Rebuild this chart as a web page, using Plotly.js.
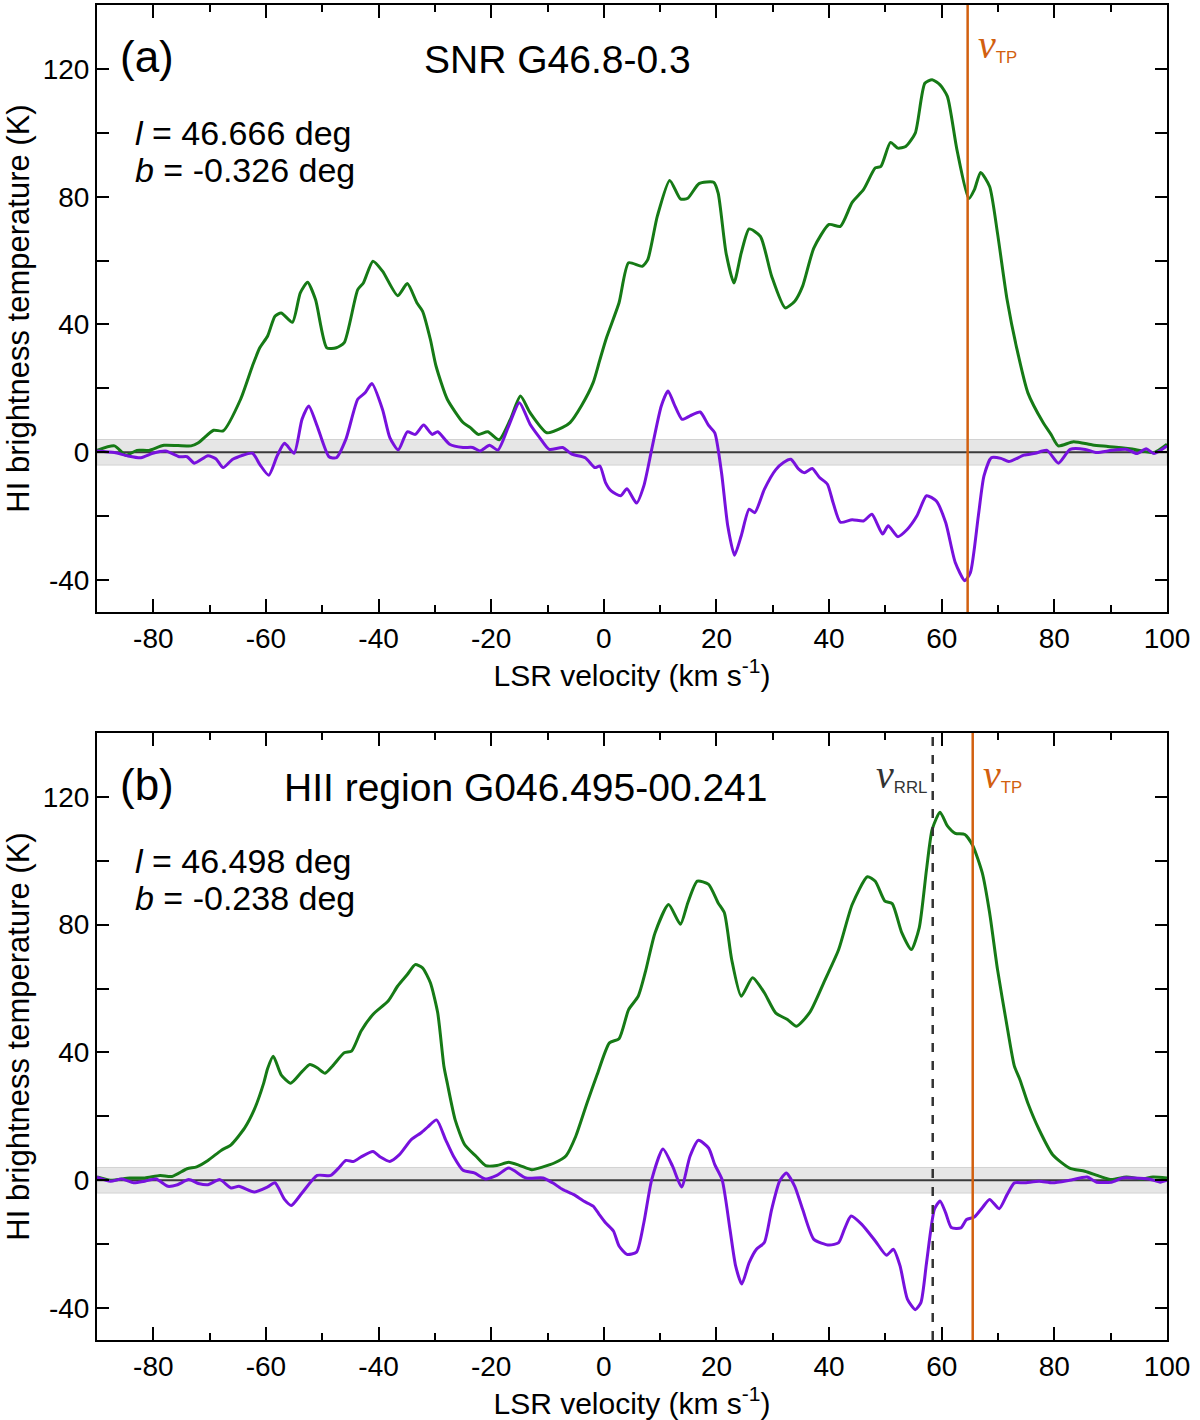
<!DOCTYPE html>
<html>
<head>
<meta charset="utf-8">
<script src="https://cdn.plot.ly/plotly-3.0.1.min.js"></script>
<style>
  body { margin: 0; background: #fff; }
  #chart { width: 1200px; height: 1420px; }
</style>
</head>
<body>
<div id="chart"></div>
<script>
// HI spectra towards SNR G46.8-0.3 (a) and HII region G046.495-00.241 (b)

// panel (a): emission (green)
const velA_on = [-90, -86.9, -84.9, -82.9, -80.8, -78.1, -73.3, -72, -69.3, -67.6, -64.5, -62.4, -61.1, -59.7, -58.4, -57.3, -55.3, -53.9, -52.6, -51.2, -49.2, -47.5, -46.1, -43.7, -42.7, -41, -39.3, -36.6, -34.9, -33.2, -32.2, -30.8, -29.8, -27.8, -25, -23.7, -22.3, -20.6, -18.6, -16.6, -14.8, -13.1, -10.1, -7.4, -6, -4, -1.9, -0.7, 0.5, 2.7, 4.4, 6.8, 7.8, 9.5, 11.7, 13.6, 14.9, 16.9, 19.5, 20.3, 21.7, 23.1, 24.4, 25.8, 27.8, 29.8, 32.2, 33.9, 35.3, 37.3, 40, 42, 44.1, 46.1, 48.2, 49.2, 50.9, 52.2, 53.6, 55.3, 57, 58.3, 59.7, 61, 62.7, 64.8, 65.8, 66.9, 68.5, 69.9, 71.6, 73.3, 75.3, 78, 79.4, 80.7, 83.4, 86.8, 89.5, 94.3, 97.7, 100];
const tbA_on = [0.6, 2, -0.9, 0.6, 0.6, 2.2, 2, 3, 6.9, 6.7, 16.6, 27, 32.7, 36.4, 42.6, 43.6, 40.7, 49.9, 53.2, 47.8, 32.7, 32.7, 34.3, 50.9, 53, 59.8, 56.7, 49, 52.8, 46.8, 44.2, 35.3, 27, 16.6, 9.3, 7.7, 5.6, 6.4, 3.9, 10.3, 17.6, 12.4, 6.1, 7.7, 9.3, 14.5, 21.8, 29, 36, 46.8, 59.3, 58.2, 60.3, 73.9, 85.1, 79.3, 79.5, 84.1, 84.5, 81.1, 62.4, 53, 62.4, 69.9, 67.6, 55.1, 45.2, 47.3, 52, 64, 71.3, 70.7, 78.2, 82.2, 89, 89.5, 97, 95.2, 95.7, 99.9, 115.5, 116.6, 115, 111.4, 94.7, 79.4, 82.2, 87.6, 83.2, 68.6, 47.8, 32.7, 18.6, 9.3, 5.6, 2, 3.3, 2.3, 1.8, 0.9, -0.1, 2.5];

// panel (a): difference spectrum (purple)
const velA_diff = [-90, -86.9, -84.6, -82.2, -80.1, -77.8, -75.4, -74, -72.7, -70.3, -68.9, -67.6, -65.9, -62.4, -61.1, -59.5, -58, -56.7, -55, -53.6, -52.4, -50.9, -48.8, -47.5, -45.8, -43.7, -42.4, -41.2, -39.3, -38, -36.5, -34.9, -33.5, -32, -30.5, -29.5, -27.4, -25, -23.3, -22, -20.3, -18.8, -16.9, -15, -13.1, -11.4, -9.7, -7.3, -5.7, -3.3, -1.6, -0.7, 0.3, 1.3, 3, 4.1, 5.8, 7.1, 8.5, 10.2, 11.4, 12.5, 13.9, 15.3, 17.1, 18.6, 19.7, 20.9, 22, 23.2, 24.4, 25.8, 26.8, 28.5, 30.5, 31.9, 33.2, 34.6, 35.6, 37, 38.3, 39.7, 40.7, 42, 44.1, 46.1, 47.6, 49.5, 50.5, 52.2, 53.9, 55.6, 57.3, 59, 60.7, 62.4, 64.1, 65.1, 66.5, 67.5, 68.8, 70.5, 71.9, 74.6, 76.6, 78.7, 80.7, 82.8, 85.5, 87.5, 90.2, 92.9, 94.6, 96.3, 97.7, 100];
const tbA_diff = [0.4, -0.1, -1.1, -1.7, -0.3, 0.4, -1.4, -1.4, -3.4, -1.1, -2, -4.8, -2.2, -0.3, -3.8, -7.2, -1.1, 2.8, -0.3, 10.3, 14.5, 8.2, -1.4, -1.7, 4.1, 16.6, 18.6, 21.5, 13.4, 4.6, 0.7, 6.4, 5.6, 8.5, 5.6, 6.4, 2.5, 1.5, 1.5, 0.4, 2.2, 0.7, 8.2, 15.5, 8.8, 4.6, 0.9, 1.5, -0.6, -1.7, -4.8, -4.3, -9.5, -12.1, -13.6, -11.4, -15.9, -10.5, 0.9, 14.5, 19.2, 15, 10.3, 11.4, 12.6, 8.4, 6.1, -6.4, -23, -32.2, -26.1, -17.8, -18.9, -11.6, -5.5, -3.2, -2.2, -5.3, -6.4, -5.1, -7.9, -10, -15.7, -21.9, -21.1, -21.5, -19.4, -25.6, -23, -26.4, -24.1, -19.9, -13.6, -15.2, -22, -34.5, -40.2, -37.6, -19.9, -7.4, -1.7, -1.9, -2.9, -0.9, -0.3, 0.6, -3.4, 0.9, 0.9, -0.1, 0.6, 0.9, -0.4, 1.1, -0.4, 2];

// panel (b): emission (green)
const velB_on = [-90, -87.6, -84.2, -81.5, -78.8, -76.7, -74, -72.3, -70.3, -67.9, -66.2, -63.8, -62.1, -60.4, -59.7, -58.7, -57.3, -55.6, -53.6, -52.2, -50.9, -49.5, -48.2, -46.1, -44.8, -43.1, -41, -38.3, -36.6, -34.9, -33.5, -32.2, -30.8, -29.5, -28.4, -27.8, -26.4, -24.7, -22.7, -21, -19, -16.9, -14.9, -12.8, -10.8, -8.8, -6.7, -5, -3, -1.2, 1, 2.7, 4.4, 6.1, 7.4, 9.1, 11.5, 13.6, 14.9, 16.6, 18.6, 20.3, 21.4, 22.7, 24.4, 26.4, 28.5, 30.5, 32.6, 34.2, 36.6, 39.3, 41.7, 44.1, 46.8, 48.2, 49.9, 51.2, 52.9, 54.6, 56, 57.3, 58.3, 59.7, 61, 62.4, 64.1, 65.5, 67.2, 68.5, 69.9, 71.6, 72.9, 73.9, 75.3, 77.3, 79.7, 82.7, 85.4, 88.1, 90.1, 92.8, 95.5, 97.5, 100];
const tbB_on = [1, 0, 0.7, 0.7, 1.5, 1.2, 3.6, 4.2, 6.2, 9.4, 11.1, 16.3, 22, 30.4, 35, 38.8, 33, 30.4, 34, 36.2, 35.2, 33.5, 35.7, 39.9, 40.4, 46.7, 51.9, 56.1, 60.8, 64.4, 67.5, 66.5, 61.8, 52.4, 35.7, 30.4, 18.9, 11.1, 7.5, 4.6, 4.6, 5.6, 4.6, 3.3, 4.2, 5.4, 7.7, 13.7, 24.1, 33, 43, 44.3, 53.4, 57.6, 65.4, 77.5, 86.3, 80.1, 86.8, 93.6, 92.6, 86.8, 83.7, 69.1, 57.6, 63.4, 58.7, 52.4, 50.3, 48.2, 52.6, 62.8, 72.2, 86.3, 95, 93.6, 87.4, 86.6, 77.5, 72.2, 79, 97.3, 109.8, 115.2, 110.9, 108.6, 108.2, 104.8, 96.2, 83.7, 66, 48.2, 35.7, 31.4, 24.1, 15.8, 8, 3.8, 2.8, 1.2, 0.2, 1, 0.4, 1, 0.7];

// panel (b): difference spectrum (purple)
const velB_diff = [-90, -87.6, -85.6, -83.5, -81.5, -79.5, -77.4, -75.7, -73.7, -72, -70.3, -68.2, -66.2, -64.8, -62.1, -59.7, -58.4, -56.7, -55.5, -53.6, -50.9, -48.5, -47.1, -45.8, -44.4, -43.1, -41, -39.7, -38, -36.3, -34.2, -32.5, -31.2, -29.7, -28.1, -26.7, -25, -23, -21, -19, -16.9, -13.8, -10.8, -9.1, -7.3, -5.3, -3.6, -1.9, -0.9, 0.3, 1.7, 2.7, 4.1, 5.8, 7.1, 8.5, 10.5, 12.2, 13.8, 15.3, 16.8, 18.6, 19.7, 21, 22.4, 23.4, 24.5, 25.8, 27.1, 28.5, 29.8, 31.2, 32.4, 33.9, 35.3, 37.3, 40, 41.7, 42.7, 43.9, 45.8, 48.2, 50.2, 51.4, 52.6, 53.9, 55.3, 56.3, 57.3, 58.7, 59.7, 60.7, 61.7, 63.4, 64.4, 65.8, 67.2, 68.5, 70.2, 71.6, 72.9, 74.6, 77.3, 79.7, 82.7, 85.8, 87.5, 90.1, 92.1, 94.1, 96.8, 98.8, 100];
const tbB_diff = [1, -0.3, 0.4, -0.8, -0.3, 0.4, -1.9, -1.4, 0.2, -1, -1.4, 0.2, -2.4, -1.9, -3.7, -2.1, -0.8, -6, -7.9, -4, 1.5, 1.5, 3.8, 6.2, 5.9, 7.3, 9, 7.3, 5.9, 8, 12.7, 14.8, 16.8, 18.9, 12.7, 7.5, 3.1, 2.3, 0.4, 1.5, 3.8, 0.7, 0.7, -0.8, -2.9, -4.5, -6.5, -8.1, -10.5, -13.3, -15.9, -20.6, -23.2, -22.5, -13.3, 0.2, 9.8, 4.4, -2.1, 7.5, 12.5, 10.1, 4.9, 0.2, -15.4, -26.8, -32.5, -25.8, -21.6, -19.5, -9.1, -0.3, 2.3, -1.9, -9.1, -18.5, -20.3, -19.5, -15.4, -11.2, -13.8, -19, -23.5, -21.6, -26.8, -37.2, -40.5, -38.3, -25.8, -9.1, -6.5, -10.2, -14.8, -14.9, -12.3, -11.5, -8.6, -6, -8.9, -4.5, -0.8, -0.8, -0.3, -0.8, 0, 1, -0.6, -0.6, 0.7, 0.7, 0.4, -0.6, 0];

// reference velocities (km/s)
const vTP_a = 64.6;
const vTP_b = 65.5;
const vRRL_b = 58.4;
const noiseBand = 4;   // +/- K grey band

// tick positions and labels (plain hyphen minus, as in the figure)
const xTickVals = [-80, -60, -40, -20, 0, 20, 40, 60, 80, 100];
const xTickText = ['-80', '-60', '-40', '-20', '0', '20', '40', '60', '80', '100'];
const xMinorVals = [-90, -70, -50, -30, -10, 10, 30, 50, 70, 90];
const yTickVals = [-40, 0, 40, 80, 120];
const yTickText = ['-40', '0', '40', '80', '120'];
const yMinorVals = [-20, 20, 60, 100];

const GREEN = '#167a16';
const PURPLE = '#7711dd';
const ORANGE = '#d2600f';
const FONT = 'Liberation Sans, Arial, sans-serif';

function spec(x, y, color, xa, ya) {
    return {
        x: x, y: y, xaxis: xa, yaxis: ya,
        type: 'scatter', mode: 'lines',
        line: { color: color, width: 3, shape: 'spline', smoothing: 0.6 },
        hoverinfo: 'skip', showlegend: false
    };
}

const traces = [
    spec(velA_on, tbA_on, GREEN, 'x', 'y'),
    spec(velA_diff, tbA_diff, PURPLE, 'x', 'y'),
    spec(velB_on, tbB_on, GREEN, 'x2', 'y2'),
    spec(velB_diff, tbB_diff, PURPLE, 'x2', 'y2')
];

function xAxis(anchor) {
    return {
        anchor: anchor, domain: [0, 1],
        range: [-90, 100],
        tickmode: 'array', tickvals: xTickVals, ticktext: xTickText,
        ticks: 'inside', ticklen: 13, tickwidth: 2, tickcolor: '#000',
        minor: { tickmode: 'array', tickvals: xMinorVals, ticks: 'inside', ticklen: 7, tickwidth: 2, tickcolor: '#000' },
        showline: true, linewidth: 2, linecolor: '#000', mirror: 'ticks',
        showgrid: false, zeroline: false,
        tickfont: { family: FONT, size: 28, color: '#000' },
        title: { text: 'LSR velocity (km s<sup>-1</sup>)', font: { family: FONT, size: 30, color: '#000' }, standoff: 12 }
    };
}

function yAxis(anchor, domain) {
    return {
        anchor: anchor, domain: domain,
        range: [-50, 140],
        tickmode: 'array', tickvals: yTickVals, ticktext: yTickText,
        ticks: 'inside', ticklen: 12, tickwidth: 2, tickcolor: '#000',
        minor: { tickmode: 'array', tickvals: yMinorVals, ticks: 'inside', ticklen: 12, tickwidth: 2, tickcolor: '#000' },
        showline: true, linewidth: 2, linecolor: '#000', mirror: 'ticks',
        showgrid: false, zeroline: false,
        tickfont: { family: FONT, size: 28, color: '#000' },
        title: { text: 'HI brightness temperature (K)', font: { family: FONT, size: 31, color: '#000' }, standoff: 4 }
    };
}

function panelShapes(xr, yr, vlines) {
    const s = [
        { type: 'rect', xref: xr + ' domain', yref: yr, x0: 0, x1: 1, y0: -noiseBand, y1: noiseBand,
          fillcolor: '#e6e6e6', line: { color: '#d2d2d2', width: 1 }, layer: 'below' },
        { type: 'line', xref: xr + ' domain', yref: yr, x0: 0, x1: 1, y0: 0, y1: 0,
          line: { color: '#3a3a3a', width: 2 }, layer: 'below' }
    ];
    vlines.forEach(v => s.push({
        type: 'line', xref: xr, yref: yr + ' domain', x0: v.x, x1: v.x, y0: 0, y1: 1,
        line: { color: v.color, width: 2.5, dash: v.dash || 'solid' }, layer: 'above'
    }));
    return s;
}

const nu = '<span style="font-family:\'Liberation Serif\',serif;font-style:italic;font-size:40px">ν</span>';

function txt(xr, yr, x, y, text, size, anchor, color) {
    return { xref: xr, yref: yr, x: x, y: y, text: text, showarrow: false,
             xanchor: anchor || 'left', yanchor: 'middle',
             font: { family: FONT, size: size, color: color || '#000' } };
}

const annotations = [
    txt('x', 'y', -86.2, 124, '(a)', 44),
    txt('x', 'y', -8.3, 123, 'SNR G46.8-0.3', 39, 'center'),
    txt('x', 'y', -83.6, 100, '<i>l</i> = 46.666 deg', 34),
    txt('x', 'y', -83.6, 88.3, '<i>b</i> = -0.326 deg', 34),
    txt('x', 'y', 66, 127.5, nu + '<sub>TP</sub>', 24, 'left', ORANGE),

    txt('x2', 'y2', -86.2, 124, '(b)', 44),
    txt('x2', 'y2', -13.9, 123, 'HII region G046.495-00.241', 39, 'center'),
    txt('x2', 'y2', -83.6, 100, '<i>l</i> = 46.498 deg', 34),
    txt('x2', 'y2', -83.6, 88.3, '<i>b</i> = -0.238 deg', 34),
    txt('x2', 'y2', 57.7, 127, nu + '<sub>RRL</sub>', 24, 'right', '#333'),
    txt('x2', 'y2', 67, 127, nu + '<sub>TP</sub>', 24, 'left', ORANGE)
];

const layout = {
    width: 1200, height: 1420,
    margin: { l: 97, r: 33, t: 5, b: 80 },
    paper_bgcolor: '#fff', plot_bgcolor: '#fff',
    showlegend: false,
    xaxis: xAxis('y'),
    yaxis: yAxis('x', [0.5453, 1]),
    xaxis2: xAxis('y2'),
    yaxis2: yAxis('x2', [0, 0.4547]),
    shapes: panelShapes('x', 'y', [{ x: vTP_a, color: ORANGE }])
        .concat(panelShapes('x2', 'y2', [
            { x: vRRL_b, color: '#333', dash: 'dash' },
            { x: vTP_b, color: ORANGE }
        ])),
    annotations: annotations
};

Plotly.newPlot('chart', traces, layout, { staticPlot: true, displayModeBar: false });
</script>
</body>
</html>
